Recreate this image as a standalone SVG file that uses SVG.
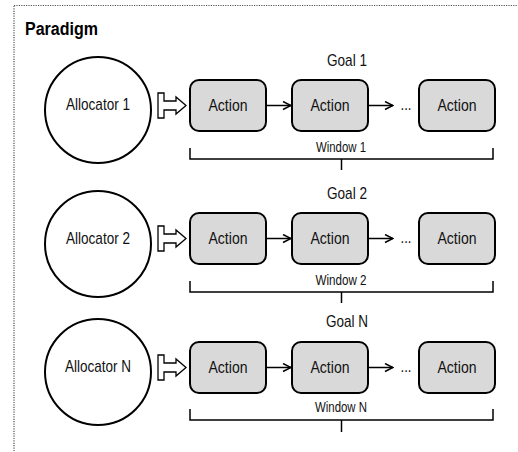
<svg xmlns="http://www.w3.org/2000/svg" width="518" height="452" viewBox="0 0 518 452">
<defs>
<style>
.frame{fill:none;stroke:#555;stroke-width:1.2;stroke-dasharray:1.2 1.2}
.alloc{fill:#fff;stroke:#000;stroke-width:2}
.box{fill:#d9d9d9;stroke:#000;stroke-width:2}
.lbl{font-family:"Liberation Sans",Arial,sans-serif;fill:#111;text-anchor:middle}
.big{font-size:17px}
.small{font-size:14px}
.title{font-family:"Liberation Sans",Arial,sans-serif;font-weight:bold;font-size:18px;fill:#000}
.edge{fill:none;stroke:#000;stroke-width:1.5}
.block{fill:#fff;stroke:#000;stroke-width:1.3}
.brk{fill:none;stroke:#000;stroke-width:1.5}
</style>
<marker id="chev" markerWidth="10" markerHeight="10" refX="9" refY="5" orient="auto" markerUnits="userSpaceOnUse">
<polyline points="1,1 9,5 1,9" fill="none" stroke="#000" stroke-width="1.5"/>
</marker>
</defs>
<rect class="frame" x="14" y="5.5" width="520" height="460"/>
<text class="title" x="25" y="35" textLength="73" lengthAdjust="spacingAndGlyphs">Paradigm</text>

<g id="connectors">
<path class="block" d="M158,93 H164 V101 H176 V97 L186,105.5 L176,114 V110 H164 V118 H158 Z"/>
<line class="edge" x1="266" y1="105.5" x2="291" y2="105.5" marker-end="url(#chev)"/>
<line class="edge" x1="368" y1="105.5" x2="393" y2="105.5" marker-end="url(#chev)"/>
<path class="brk" d="M190,148 V159 H493 V148 M341.5,159 V170"/>
<path class="block" d="M158,226 H164 V234 H176 V230 L186,238.5 L176,247 V243 H164 V251 H158 Z"/>
<line class="edge" x1="266" y1="238.5" x2="291" y2="238.5" marker-end="url(#chev)"/>
<line class="edge" x1="368" y1="238.5" x2="393" y2="238.5" marker-end="url(#chev)"/>
<path class="brk" d="M190,281 V292 H493 V281 M341.5,292 V303"/>
<path class="block" d="M158,355 H164 V363 H176 V359 L186,367.5 L176,376 V372 H164 V380 H158 Z"/>
<line class="edge" x1="266" y1="367.5" x2="291" y2="367.5" marker-end="url(#chev)"/>
<line class="edge" x1="368" y1="367.5" x2="393" y2="367.5" marker-end="url(#chev)"/>
<path class="brk" d="M190,409 V420 H493 V409 M341.5,420 V432"/>
</g>

<g id="allocator1"><circle class="alloc" cx="98" cy="110" r="53"/><text class="lbl big" x="98" y="110" textLength="64" lengthAdjust="spacingAndGlyphs">Allocator 1</text></g>
<g id="goal1"><text class="lbl big" x="347" y="66" textLength="40" lengthAdjust="spacingAndGlyphs">Goal 1</text></g>
<g id="action1a"><rect class="box" x="190" y="80" width="76" height="51" rx="9"/><text class="lbl big" x="228" y="111" textLength="39" lengthAdjust="spacingAndGlyphs">Action</text></g>
<g id="action1b"><rect class="box" x="292" y="80" width="76" height="51" rx="9"/><text class="lbl big" x="330" y="111" textLength="39" lengthAdjust="spacingAndGlyphs">Action</text></g>
<g id="ellipsis1"><text class="lbl big" x="406" y="110" textLength="11" lengthAdjust="spacingAndGlyphs">...</text></g>
<g id="action1c"><rect class="box" x="419" y="80" width="76" height="51" rx="9"/><text class="lbl big" x="457" y="111" textLength="39" lengthAdjust="spacingAndGlyphs">Action</text></g>
<g id="window1"><text class="lbl small" x="341" y="152" textLength="50" lengthAdjust="spacingAndGlyphs">Window 1</text></g>

<g id="allocator2"><circle class="alloc" cx="98" cy="244" r="53"/><text class="lbl big" x="98" y="244" textLength="64" lengthAdjust="spacingAndGlyphs">Allocator 2</text></g>
<g id="goal2"><text class="lbl big" x="347" y="199" textLength="40" lengthAdjust="spacingAndGlyphs">Goal 2</text></g>
<g id="action2a"><rect class="box" x="190" y="213" width="76" height="51" rx="9"/><text class="lbl big" x="228" y="244" textLength="39" lengthAdjust="spacingAndGlyphs">Action</text></g>
<g id="action2b"><rect class="box" x="292" y="213" width="76" height="51" rx="9"/><text class="lbl big" x="330" y="244" textLength="39" lengthAdjust="spacingAndGlyphs">Action</text></g>
<g id="ellipsis2"><text class="lbl big" x="406" y="243" textLength="11" lengthAdjust="spacingAndGlyphs">...</text></g>
<g id="action2c"><rect class="box" x="419" y="213" width="76" height="51" rx="9"/><text class="lbl big" x="457" y="244" textLength="39" lengthAdjust="spacingAndGlyphs">Action</text></g>
<g id="window2"><text class="lbl small" x="341" y="285" textLength="51" lengthAdjust="spacingAndGlyphs">Window 2</text></g>

<g id="allocatorN"><circle class="alloc" cx="98" cy="372" r="53"/><text class="lbl big" x="98" y="372" textLength="66" lengthAdjust="spacingAndGlyphs">Allocator N</text></g>
<g id="goalN"><text class="lbl big" x="347" y="327" textLength="42" lengthAdjust="spacingAndGlyphs">Goal N</text></g>
<g id="actionNa"><rect class="box" x="190" y="342" width="76" height="51" rx="9"/><text class="lbl big" x="228" y="373" textLength="39" lengthAdjust="spacingAndGlyphs">Action</text></g>
<g id="actionNb"><rect class="box" x="292" y="342" width="76" height="51" rx="9"/><text class="lbl big" x="330" y="373" textLength="39" lengthAdjust="spacingAndGlyphs">Action</text></g>
<g id="ellipsisN"><text class="lbl big" x="406" y="372" textLength="11" lengthAdjust="spacingAndGlyphs">...</text></g>
<g id="actionNc"><rect class="box" x="419" y="342" width="76" height="51" rx="9"/><text class="lbl big" x="457" y="373" textLength="39" lengthAdjust="spacingAndGlyphs">Action</text></g>
<g id="windowN"><text class="lbl small" x="341" y="412" textLength="52" lengthAdjust="spacingAndGlyphs">Window N</text></g>
</svg>
